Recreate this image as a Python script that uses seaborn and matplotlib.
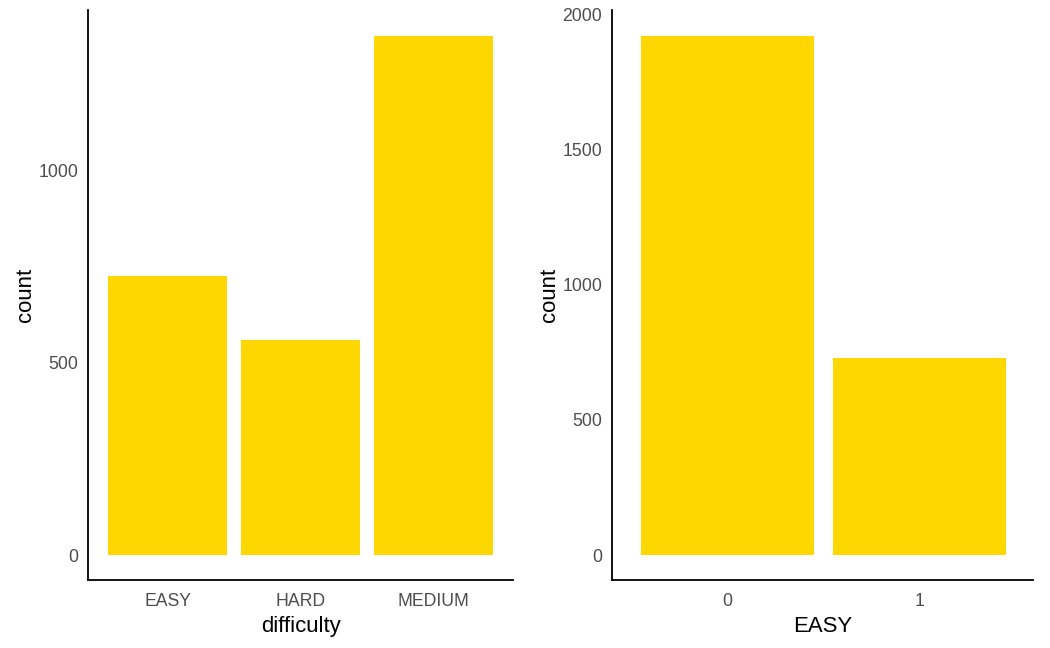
import matplotlib
matplotlib.use("Agg")
import matplotlib.pyplot as plt
import seaborn as sns
import pandas as pd

############################################################
# DATA
############################################################

difficulty = ["EASY", "HARD", "MEDIUM"]
difficulty_count = [727, 560, 1352]

easy_flag = ["0", "1"]
easy_count = [1918, 727]

bar_color = "#FFD700"

############################################################
# STYLE
############################################################

sns.set_theme(style="white")
plt.rcParams["font.family"] = ["Liberation Sans", "DejaVu Sans"]
plt.rcParams.update({
    "axes.linewidth": 1.3,
    "axes.edgecolor": "black",
    "xtick.major.size": 0,
    "ytick.major.size": 0,
    "xtick.major.pad": 9,
    "ytick.major.pad": 7,
    "xtick.color": "#4D4D4D",
    "ytick.color": "#4D4D4D",
    "xtick.labelsize": 12.7,
    "ytick.labelsize": 12.7,
    "axes.labelsize": 15.9,
    "axes.labelcolor": "black",
})

W, H = 1050, 648
fig = plt.figure(figsize=(W / 100, H / 100), dpi=100)

ax1 = fig.add_axes([88 / W, (H - 580) / H, (513 - 88) / W, 570 / H])
ax2 = fig.add_axes([612 / W, (H - 580) / H, (1033 - 612) / W, 570 / H])

############################################################
# LEFT PANEL
############################################################

df1 = pd.DataFrame({"difficulty": difficulty, "count": difficulty_count})
sns.barplot(data=df1, x="difficulty", y="count", order=difficulty,
            color=bar_color, saturation=1, width=0.9, linewidth=0, ax=ax1)
ax1.set_xlim(-0.6, 2.6)
ax1.set_ylim(-65, 1419)
ax1.set_yticks([0, 500, 1000])

############################################################
# RIGHT PANEL
############################################################

df2 = pd.DataFrame({"EASY": easy_flag, "count": easy_count})
sns.barplot(data=df2, x="EASY", y="count", order=easy_flag,
            color=bar_color, saturation=1, width=0.9, linewidth=0, ax=ax2)
ax2.set_xlim(-0.6, 1.59)
ax2.set_ylim(-92, 2015)
ax2.set_yticks([0, 500, 1000, 1500, 2000])

for ax in (ax1, ax2):
    sns.despine(ax=ax)
    ax.xaxis.labelpad = 5
    ax.yaxis.labelpad = 2

fig.savefig("out.png", dpi=100)
